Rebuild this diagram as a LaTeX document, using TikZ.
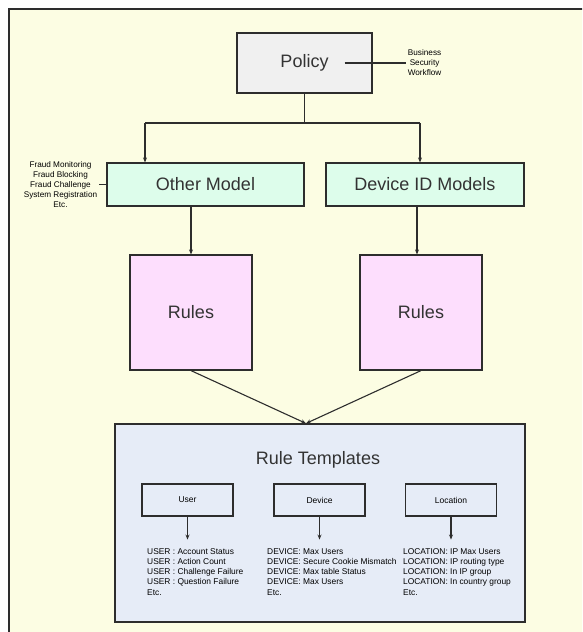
\documentclass[tikz,border=0pt]{standalone}
\usepackage{fontspec}
\setmainfont{Liberation Sans}
\usepackage{xcolor}
\usepackage{tikz}
\usetikzlibrary{arrows.meta,positioning}
\definecolor{pagebg}{RGB}{252,253,227}
\definecolor{policyfill}{RGB}{240,240,240}
\definecolor{modelfill}{RGB}{221,253,235}
\definecolor{rulesfill}{RGB}{253,222,253}
\definecolor{templfill}{RGB}{230,236,247}
\definecolor{edge}{RGB}{45,45,45}
\tikzset{
  bigbox/.style={draw=edge, line width=1.2pt, rectangle, font=\fontsize{18}{21}\selectfont, text=black!80},
  smallbox/.style={draw=edge, line width=1.1pt, rectangle, minimum width=91pt, minimum height=32pt, font=\fontsize{8.5}{10}\selectfont},
  note/.style={font=\fontsize{8.2}{10}\selectfont, align=center, inner sep=2pt},
  list/.style={font=\fontsize{8.4}{10.3}\selectfont, align=left, anchor=north west, inner sep=0pt},
  link/.style={draw=edge, line width=1.1pt},
  arrow/.style={link, -{Stealth[length=5pt,width=4pt]}}
}

\begin{document}
\begin{tikzpicture}[x=1pt, y=-1pt]
        \useasboundingbox (0,0) rectangle (582,632);
        \clip (0,0) rectangle (582,632);
        % page frame
        \draw[fill=pagebg, draw=edge, line width=1.3pt] (9,9) rectangle (620,670);

        % Define the nodes
        \node[bigbox, fill=policyfill, minimum width=135pt, minimum height=60pt] (policy) at (304.5,63) {Policy};
        \node[note, right=33pt of policy] (business) {Business\\Security\\Workflow};

        \node[bigbox, fill=modelfill, minimum width=197pt, minimum height=43pt] (other) at (205.5,184.5) {Other Model};
        \node[bigbox, fill=modelfill, minimum width=198pt, minimum height=43pt] (device) at (425,184.5) {Device ID Models};
        \node[note, left=7pt of other] (fraud) {Fraud Monitoring\\Fraud Blocking\\Fraud Challenge\\System Registration\\Etc.};

        \node[bigbox, fill=rulesfill, minimum width=122pt, minimum height=115pt] (rulesA) at (191,312.5) {Rules};
        \node[bigbox, fill=rulesfill, minimum width=122pt, minimum height=115pt] (rulesB) at (421,312.5) {Rules};

        % Rule templates block
        \node[bigbox, fill=templfill, minimum width=410pt, minimum height=198pt] (templates) at (320,523) {};
        \node[font=\fontsize{18}{21}\selectfont, text=black!80] (title) at (318,460) {Rule Templates};
        \node[smallbox] (user) at (187.5,500) {User};
        \node[smallbox] (devicet) at (319.5,500) {Device};
        \node[smallbox] (location) at (451,500) {Location};

        \node[list] (userlist) at (147,548) {USER : Account Status\\USER : Action Count\\USER : Challenge Failure\\USER : Question Failure\\Etc.};
        \node[list] (devicelist) at (267,548) {DEVICE: Max Users\\DEVICE: Secure Cookie Mismatch\\DEVICE: Max table Status\\DEVICE: Max Users\\Etc.};
        \node[list] (locationlist) at (403,548) {LOCATION: IP Max Users\\LOCATION: IP routing type\\LOCATION: In IP group\\LOCATION: In country group\\Etc.};

        % Connect the nodes
        \coordinate (split) at (policy.south |- 0,123);
        \coordinate (splitL) at (145,123);
        \coordinate (splitR) at (420,123);
        \draw[link] ([xshift=40pt]policy.center) -- (business.west);
        \draw[link] (fraud.east) -- (other.west);
        \draw[link] (policy.south) -- (split);
        \draw[link] (splitL) -- (splitR);
        \draw[arrow] (splitL) -- (splitL |- other.north);
        \draw[arrow] (splitR) -- (splitR |- device.north);

        \draw[arrow] (other.south -| rulesA.north) -- (rulesA.north);
        \draw[arrow] (device.south -| 417,0) -- (rulesB.north -| 417,0);

        \draw[arrow] (rulesA.south) -- ([xshift=-14pt]templates.north);
        \draw[arrow] (rulesB.south) -- ([xshift=-14pt]templates.north);

        \draw[arrow] (user.south) -- ++(0,23);
        \draw[arrow] (devicet.south) -- ++(0,23);
        \draw[arrow] (location.south) -- ++(0,23);
    \end{tikzpicture}
\end{document}
